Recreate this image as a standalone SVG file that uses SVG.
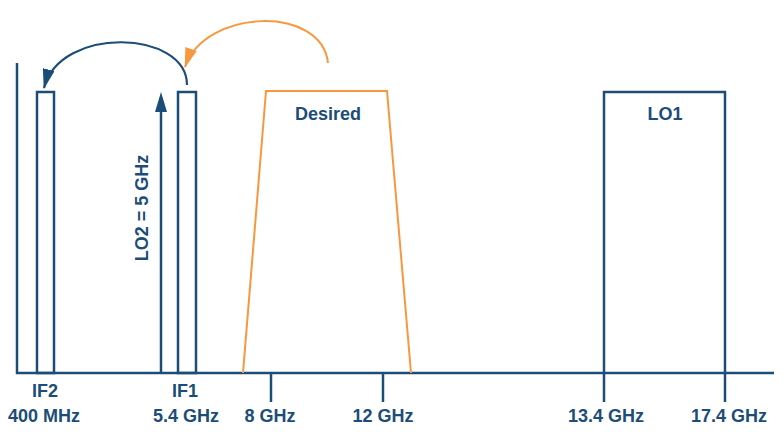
<svg xmlns="http://www.w3.org/2000/svg" width="784" height="433" viewBox="0 0 784 433">
<style>
.b{fill:none;stroke:#1c4d78;stroke-width:2.5}
.c{fill:none;stroke:#1c4d78;stroke-width:2.2}
.o{fill:none;stroke:#f7983f;stroke-width:2}
.t{font-family:"Liberation Sans",Arial,sans-serif;font-weight:bold;font-size:18px;fill:#1c4d78;text-anchor:middle}
</style>
<defs>
<marker id="ab" viewBox="0 0 20 12" refX="19" refY="6" markerWidth="20" markerHeight="12" markerUnits="userSpaceOnUse" orient="auto"><path d="M0,0 L20,6 L0,12 Z" fill="#1c4d78"/></marker>
<marker id="ao" viewBox="0 0 20 12" refX="19" refY="6" markerWidth="20" markerHeight="12" markerUnits="userSpaceOnUse" orient="auto"><path d="M0,0 L20,6 L0,12 Z" fill="#f7983f"/></marker>
</defs>
<g id="axes">
<path class="b" d="M17,63 V373 H774"/>
</g>
<g id="if2"><rect class="b" x="37" y="92" width="17" height="281"/><text class="t" x="45" y="397">IF2</text><text class="t" x="44" y="422">400 MHz</text></g>
<g id="lo2"><line class="b" x1="161" y1="373" x2="161" y2="108"/><path d="M161,92 L167,112 L155,112 Z" fill="#1c4d78"/><text class="t" transform="translate(148,208) rotate(-90)">LO2 = 5 GHz</text></g>
<g id="if1"><rect class="b" x="178" y="92" width="18" height="281"/><text class="t" x="185" y="397">IF1</text><text class="t" x="186" y="422">5.4 GHz</text></g>
<g id="desired"><path class="o" d="M243,373 L266,91 H387 L411,373"/><text class="t" x="328" y="120">Desired</text></g>
<g id="tick8"><line class="b" x1="271" y1="373" x2="271" y2="402"/><text class="t" x="270" y="422">8 GHz</text></g>
<g id="tick12"><line class="b" x1="383" y1="373" x2="383" y2="402"/><text class="t" x="383" y="422">12 GHz</text></g>
<g id="lo1"><path class="b" d="M604,402 V92 H725 V402"/><text class="t" x="665" y="120">LO1</text><text class="t" x="606" y="422">13.4 GHz</text><text class="t" x="729" y="422">17.4 GHz</text></g>
<g id="connectors">
<path class="c" d="M187,85 C187,30 60,25 44,88" marker-end="url(#ab)"/>
<path class="o" d="M328,63 C322,5 205,8 185,67" marker-end="url(#ao)"/>
</g>
</svg>
